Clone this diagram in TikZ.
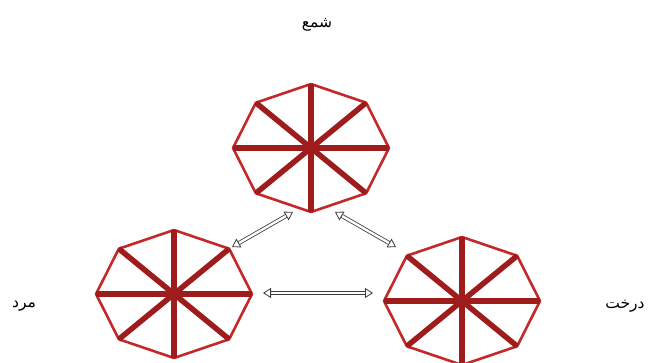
\documentclass[tikz,border=0pt]{standalone}
\usepackage{fontspec}
\usepackage{xcolor}
\usetikzlibrary{shapes.geometric, arrows.meta, positioning, calc}
\TeXXeTstate=1
\newfontfamily\persian[Script=Arabic]{DejaVu Sans}
\definecolor{rimcolor}{RGB}{196,40,40}
\definecolor{spokecolor}{RGB}{158,28,28}
\definecolor{linkcolor}{RGB}{60,60,60}

\begin{document}
\begin{tikzpicture}[x=1pt, y=-1pt,
    hub/.style={ellipse, minimum width=156pt, minimum height=128pt, inner sep=0pt},
    rim/.style={draw=rimcolor, line width=2.6pt, line join=round},
    spoke/.style={draw=spokecolor, line width=5.5pt},
    link/.style={draw=linkcolor, line width=0.8pt, double=white, double distance=2.4pt,
        {Triangle[open, length=8pt, width=10pt]}-{Triangle[open, length=8pt, width=10pt]}},
    word/.style={font=\persian\fontsize{15.5}{18}\selectfont}]

    \useasboundingbox (0,0) rectangle (652,363);

    % Octagons
    \node [hub] (shama) at (311,148) {};
    \node [hub] (mard) at (174,294) {};
    \node [hub] (derakht) at (462,301) {};

    \foreach \h in {shama, mard, derakht} {
        \draw [rim, shift={(\h.center)}] (0:78 and 64) \foreach \a in {45,90,...,315} { -- (\a:78 and 64) } -- cycle;
        \foreach \a in {0,45,90,135}
            \draw [spoke, shift={(\h.center)}] (\a:78 and 64) -- (\a+180:78 and 64);
    }

    % Labels
    \node [word] (tshama) at (317,25) {\beginR شمع\endR};
    \node [word] (tmard) at (24,306) {\beginR مرد\endR};
    \node [word] (tderakht) at (625,306) {\beginR درخت\endR};

    % Arrows
    \draw [link] ([shift={(58,-47)}]mard.center) -- ([shift={(-18,64)}]shama.center);
    \draw [link] ([shift={(24,64)}]shama.center) -- ([shift={(-66,-54)}]derakht.center);
    \draw [link] ([shift={(89,-1)}]mard.center) -- ([shift={(-89,-8)}]derakht.center);

\end{tikzpicture}
\end{document}
